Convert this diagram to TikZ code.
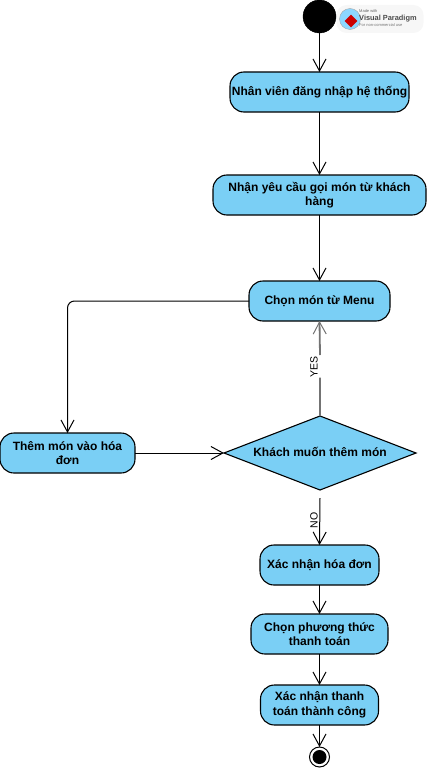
\documentclass[tikz,border=0pt]{standalone}
\usepackage{fontspec}
\setmainfont{Liberation Sans}
\usetikzlibrary{arrows.meta,shapes.geometric,positioning}
\definecolor{actfill}{RGB}{122,207,245}
\tikzset{
  x=1pt,y=-1pt,
  act/.style={draw=black,line width=1.1pt,fill=actfill,rounded corners=14pt,inner sep=0pt,outer sep=0pt,
    minimum height=40pt,align=center,font=\fontsize{12}{14.5}\selectfont\bfseries},
  dec/.style={draw=black,line width=1.1pt,fill=actfill,diamond,aspect=2.6,inner sep=0pt,outer sep=0pt,
    minimum width=192pt,minimum height=74pt,font=\fontsize{12}{14.5}\selectfont\bfseries},
  flow/.style={draw=black,line width=1pt,-{Straight Barb[length=12pt,width=13pt,line width=1pt]}},
  guard/.style={font=\fontsize{10.5}{12}\selectfont,inner sep=0pt,rotate=90},
}
\begin{document}
\begin{tikzpicture}
\useasboundingbox (0,0) rectangle (427,768);
% logo
\node[draw=none,fill=black!3,rounded corners=10pt,minimum width=87pt,minimum height=28pt,inner sep=0pt] (logo) at (380,19) {};
\node[circle,fill=blue!35!cyan!45,draw=black!35,line width=0.4pt,minimum size=21pt,inner sep=0pt] (globe) at (350,19) {};
\node[diamond,fill=red!80!black,minimum size=13pt,inner sep=0pt] (redmark) at (351,21) {};
\node[font=\fontsize{4}{5}\selectfont,text=black!60,anchor=west,inner sep=0pt] (made) at (359,11.5) {Made with};
\node[font=\fontsize{7.4}{9}\selectfont\bfseries,text=black!70,anchor=west,inner sep=0pt] (vp) at (359,18.5) {Visual Paradigm};
\node[font=\fontsize{4}{5}\selectfont,text=black!55,anchor=west,inner sep=0pt] (nc) at (359,25.5) {For non-commercial use};
% nodes
\node[circle,fill=black,draw=black,minimum size=33pt,inner sep=0pt,outer sep=0pt] (start) at (319.5,16.5) {};
\node[act,minimum width=179pt] (n1) at (319.5,92) {Nhân viên đăng nhập hệ thống};
\node[act,minimum width=213pt] (n2) at (319.5,195) {Nhận yêu cầu gọi món từ khách\\hàng};
\node[act,minimum width=141pt] (n3) at (319.5,301) {Chọn món từ Menu};
\node[act,minimum width=135pt] (n4) at (67.5,453) {Thêm món vào hóa\\đơn};
\node[dec] (d) at (320,453) {\raisebox{3pt}{Khách muốn thêm món}};
\node[act,minimum width=119pt] (n5) at (319.5,565) {Xác nhận hóa đơn};
\node[act,minimum width=137pt] (n6) at (319.5,634) {Chọn phương thức\\thanh toán};
\node[act,minimum width=118pt] (n7) at (319.5,705) {Xác nhận thanh\\toán thành công};
\node[circle,draw=black,fill=white,line width=1pt,minimum size=20pt,inner sep=0pt,outer sep=0pt] (end) at (319.5,757) {};
\node[circle,fill=black,minimum size=14pt,inner sep=0pt] (endin) at (end.center) {};
% labels
\node[guard] (yes) at (314,367) {YES};
\node[guard] (no) at (314,520.5) {NO};
\coordinate (yesLow) at (320,377.5);
\coordinate (yesHigh) at (320,355);
\coordinate (noTop) at (320,498);
% connectors
\draw[flow] (start) -- (n1);
\draw[flow] (n1) -- (n2);
\draw[flow] (n2) -- (n3);
\draw[flow,rounded corners=7pt] (n3.west) -| (n4.north);
\draw[flow] (n4) -- (d);
\draw[flow,black!55,line width=1.8pt] (d.north) -- (yesLow) (yesHigh) -- (n3.south);
\draw[flow] (noTop) -- (n5.north);
\draw[flow] (n5) -- (n6);
\draw[flow] (n6) -- (n7);
\draw[flow] (n7) -- (end);
\end{tikzpicture}
\end{document}
